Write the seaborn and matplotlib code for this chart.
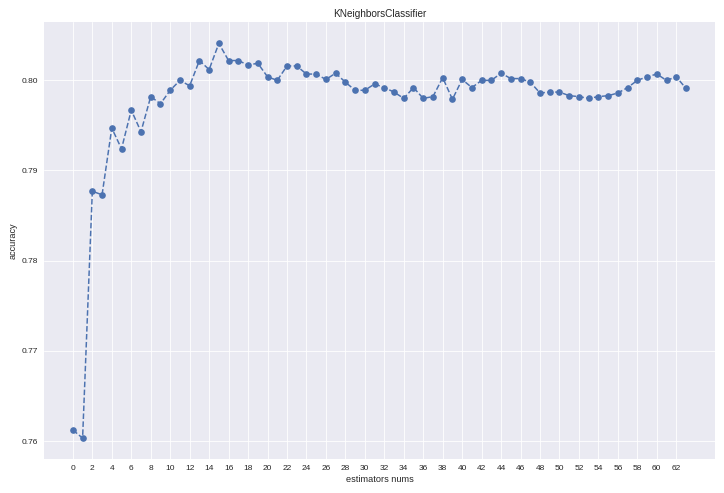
import numpy as np
import pandas as pd
import seaborn as sns
import matplotlib.pyplot as plt

# accuracy per numero di vicini
k_nums = list(range(64))
accuracy = [
    0.7612, 0.7603, 0.7877, 0.7873, 0.7947, 0.7924, 0.7967, 0.7943,
    0.7982, 0.7974, 0.7989, 0.8000, 0.7994, 0.8022, 0.8012, 0.8041,
    0.8022, 0.8022, 0.8017, 0.8019, 0.8004, 0.8000, 0.8016, 0.8016,
    0.8007, 0.8007, 0.8001, 0.8008, 0.7998, 0.7989, 0.7989, 0.7996,
    0.7992, 0.7987, 0.7980, 0.7992, 0.7980, 0.7982, 0.8003, 0.7979,
    0.8001, 0.7992, 0.8000, 0.8000, 0.8008, 0.8002, 0.8002, 0.7998,
    0.7986, 0.7987, 0.7987, 0.7983, 0.7982, 0.7980, 0.7982, 0.7983,
    0.7986, 0.7992, 0.8000, 0.8004, 0.8007, 0.8000, 0.8004, 0.7991,
]

df = pd.DataFrame({'k': k_nums, 'accuracy': accuracy})

plt.style.use('seaborn-v0_8')
fig, ax = plt.subplots(figsize=(12.07, 8.22), dpi=60)
sns.lineplot(x='k', y='accuracy', data=df, ax=ax, marker='o', markersize=8,
             linestyle='--', color='#4c72b0', markeredgewidth=0, linewidth=1.8)
ax.set_xticks(range(0, 64, 2))
ax.set_xlim(-3, 66)
ax.set_ylim(0.758, 0.8065)
ax.set_title('KNeighborsClassifier')
ax.set_xlabel('estimators nums')
ax.set_ylabel('accuracy')
plt.tight_layout()
plt.savefig('out.png')
